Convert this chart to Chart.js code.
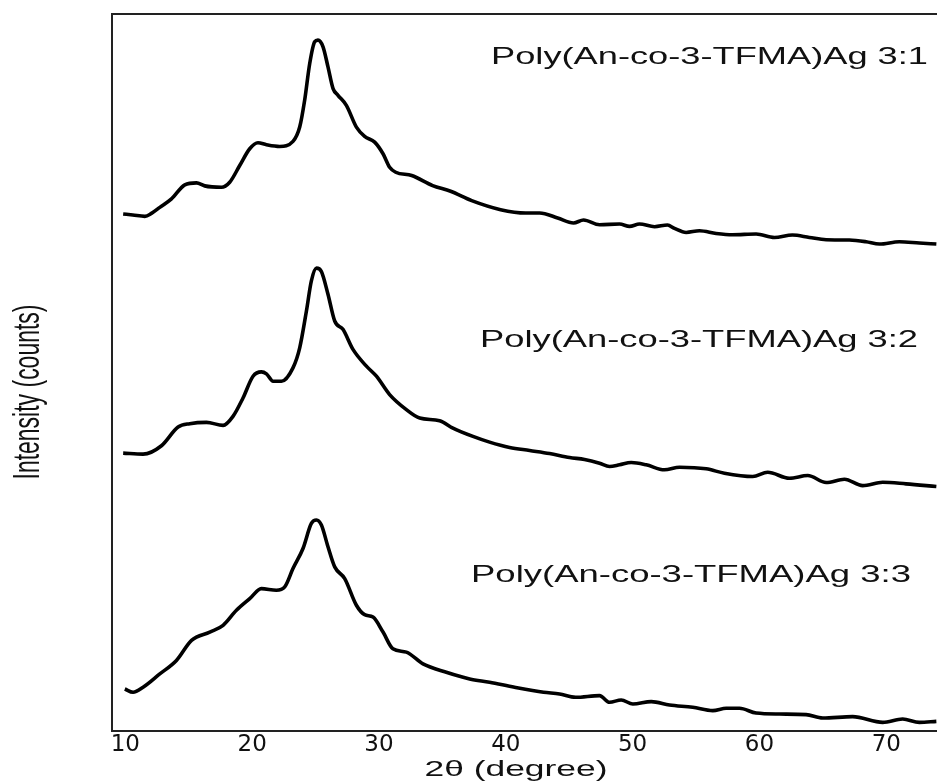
<!DOCTYPE html>
<html>
<head>
<meta charset="utf-8">
<script src="https://cdn.jsdelivr.net/npm/chart.js@4.4.1/dist/chart.umd.min.js"></script>
<style>
  html, body { margin: 0; padding: 0; background: #fff; }
  #wrap { width: 937px; height: 784px; }
</style>
</head>
<body>
<div id="wrap"><canvas id="xrd" width="937" height="784"></canvas></div>
<script>
// ── Data: [2θ (deg), intensity offset (a.u.)] ─────────────────────────────
const X_TICKS = [10, 20, 30, 40, 50, 60, 70];
const SAMPLE_NAMES = [
  'Poly(An-co-3-TFMA)Ag 3:1',
  'Poly(An-co-3-TFMA)Ag 3:2',
  'Poly(An-co-3-TFMA)Ag 3:3',
];

const PATTERN_31 = [
  [9.83,515.7],[10.59,514.7],[11.54,513.3],[12.06,516.3],[12.72,522.3],[13.64,530.7],
  [14.69,544.7],[15.61,546.7],[16.26,543.7],[17.58,542.3],[18.23,547.3],[19.02,564],
  [19.81,580.7],[20.46,586.7],[21.13,584.7],[22.17,583],[23.22,588],[23.75,602.3],
  [24.14,629],[24.54,665.7],[24.93,687.3],[25.19,689],[25.59,682.3],[25.98,662.3],
  [26.38,640.7],[26.77,634],[27.43,624],[28.22,602.3],[28.87,593],[29.66,587.3],
  [30.32,575.7],[30.84,562.3],[31.32,557.3],[32.58,554],[34.23,544],[35.65,538.3],
  [37.31,529],[39.59,520],[41.56,516.7],[42.67,516.7],[44.09,511.7],[45.34,506.7],
  [46.13,509.7],[47.39,505],[48.97,505.7],[49.76,503.3],[50.54,505.7],[51.73,503],
  [52.75,504.7],[53.30,501.3],[54.22,497.3],[55.27,499],[56.59,496.3],[57.87,495],
  [59.74,495.7],[61.18,492.3],[62.60,494.7],[63.94,492.3],[65.26,490],[67.09,489.7],
  [68.41,488],[69.46,485.7],[71.03,488],[72.61,486.7],[73.95,485.7],
];

const PATTERN_32 = [
  [9.83,277.3],[11.40,276.3],[12.85,284.7],[14.16,303.3],[15.08,306.7],[16.40,308],
  [17.71,305],[18.49,314],[19.28,332.3],[20.07,354],[20.73,358.3],[21.13,356.3],
  [21.65,349],[22.31,349],[23.22,362.3],[23.75,382.3],[24.28,419],[24.67,449],
  [25.07,461.7],[25.46,458.3],[25.98,435.7],[26.51,409],[27.16,400.7],[27.95,380.7],
  [29.01,364],[29.80,354],[30.84,335.7],[32.16,320.7],[33.21,312.3],[34.78,309.7],
  [35.83,302.3],[37.41,294],[38.72,288.3],[40.30,283],[41.88,280],[43.45,277],
  [45.03,273],[46.21,271],[47.39,267.3],[48.18,264],[48.97,265.7],[49.89,268],
  [51.07,265.7],[52.51,260.7],[53.70,263.3],[55.80,261.7],[57.24,257.3],[59.47,254],
  [60.65,258.3],[62.36,252.3],[63.81,255],[65.26,248],[66.70,251.3],[68.14,245],
  [69.72,248.3],[71.56,246.7],[73.95,244],
];

const PATTERN_33 = [
  [9.96,42.3],[10.61,39],[11.40,44],[12.72,57.3],[14.03,70.7],[15.22,90.7],
  [16.66,99],[17.71,105.7],[18.76,120.7],[19.81,132.3],[20.73,142.3],[21.91,140.7],
  [22.57,144],[23.22,162.3],[24.01,182.3],[24.67,207.3],[25.07,210.7],[25.46,205.7],
  [25.98,184],[26.51,164],[27.30,152.3],[28.22,125.7],[28.87,116.3],[29.53,114],
  [30.32,99],[31.10,82.3],[32.16,79],[33.47,67.3],[35.31,59],[37.15,52.3],
  [38.72,49],[40.69,44],[42.98,39],[44.24,37.3],[45.50,34],[47.39,35.7],
  [48.18,29],[49.10,31.3],[50.02,27.3],[51.47,29.7],[52.91,26.3],[54.74,24],
  [56.32,20.7],[57.38,23],[58.43,23],[59.74,18.3],[61.58,17.3],[63.68,16.7],
  [64.99,13.3],[67.35,14.7],[69.72,9],[71.29,12.3],[72.61,9],[73.95,10],
];

// ── Styling / placement ────────────────────────────────────────────────────
const INK = '#111';
const LABEL_PLACE = [            // left x, middle y, target width (px)
  { x: 491, y: 57,  w: 437 },
  { x: 480, y: 340, w: 438 },
  { x: 471, y: 575, w: 440 },
];

// draw text stretched to a given width (the figure's type is wide)
function stretchText(ctx, text, x, y, width, font, align) {
  ctx.save();
  ctx.font = font;
  const m = ctx.measureText(text).width;
  ctx.translate(x, y);
  ctx.scale(width / m, 1);
  ctx.textAlign = align || 'left';
  ctx.textBaseline = 'middle';
  ctx.fillStyle = INK;
  ctx.fillText(text, 0, 0);
  ctx.restore();
}

const frameAndText = {
  id: 'frameAndText',
  afterDraw(chart) {
    const { ctx, chartArea: a } = chart;
    // top edge of the frame
    ctx.save();
    ctx.strokeStyle = '#222';
    ctx.lineWidth = 2;
    ctx.beginPath();
    ctx.moveTo(a.left - 1, a.top);
    ctx.lineTo(a.right, a.top);
    ctx.stroke();
    ctx.restore();

    SAMPLE_NAMES.forEach((name, i) => {
      const p = LABEL_PLACE[i];
      stretchText(ctx, name, p.x, p.y, p.w, '24px "Liberation Sans", Arial, sans-serif', 'left');
    });

    // x title
    stretchText(ctx, '2θ (degree)', 516, 770, 183, '22px "Liberation Sans", Arial, sans-serif', 'center');

    // y title (rotated, glyphs widened across the axis)
    ctx.save();
    ctx.font = '23px "Liberation Sans", Arial, sans-serif';
    const t = 'Intensity (counts)';
    const m = ctx.measureText(t).width;
    ctx.translate(29, 392);
    ctx.rotate(-Math.PI / 2);
    ctx.scale(175 / m, 1.6);
    ctx.textAlign = 'center';
    ctx.textBaseline = 'middle';
    ctx.fillStyle = INK;
    ctx.fillText(t, 0, 0);
    ctx.restore();
  },
};

// ── Chart ──────────────────────────────────────────────────────────────────
const toXY = arr => arr.map(([x, y]) => ({ x, y }));

const datasets = [PATTERN_31, PATTERN_32, PATTERN_33].map((pat, i) => ({
  label: SAMPLE_NAMES[i],
  data: toXY(pat),
  borderColor: '#000',
  backgroundColor: 'transparent',
  borderWidth: 3.6,
  pointRadius: 0,
  cubicInterpolationMode: 'monotone',
}));

new Chart(document.getElementById('xrd').getContext('2d'), {
  type: 'line',
  data: { datasets },
  plugins: [frameAndText],
  options: {
    responsive: false,
    animation: false,
    layout: { padding: { left: 112, top: 14, right: 0, bottom: 25 } },
    plugins: { legend: { display: false }, tooltip: { enabled: false } },
    scales: {
      x: {
        type: 'linear',
        min: 8.95,
        max: 74,
        afterBuildTicks: s => { s.ticks = X_TICKS.map(v => ({ value: v })); },
        grid: { display: false, drawTicks: false },
        border: { display: true, color: '#222', width: 2 },
        ticks: {
          autoSkip: false, maxRotation: 0, padding: 0, color: INK,
          font: { family: '"DejaVu Sans"', size: 23 },
        },
      },
      y: {
        min: 0,
        max: 715,
        grid: { display: false, drawTicks: false },
        border: { display: true, color: '#222', width: 2 },
        ticks: { display: false },
      },
    },
  },
});
</script>
</body>
</html>
